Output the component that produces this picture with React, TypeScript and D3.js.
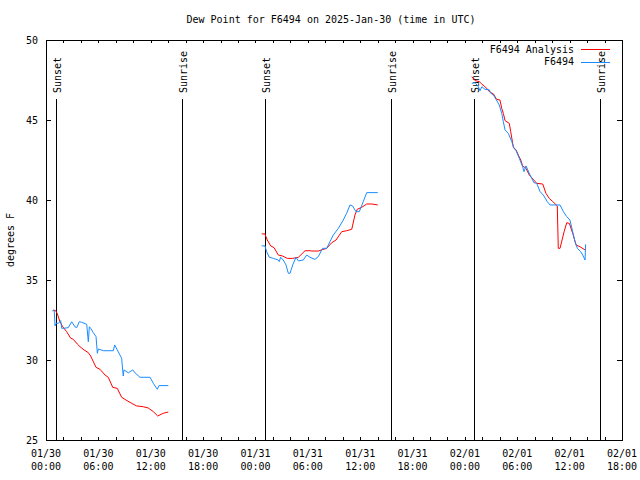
//@ts-nocheck
import * as d3 from "d3";
import React, { useEffect, useRef } from "react";

const colorAnalysis = "#ff0000";
const colorStation = "#1a8cff";

// F6494 Analysis (red)
const analysisTimes = [
  "01-30 00:50", "01-30 01:07", "01-30 01:18", "01-30 01:36", "01-30 01:55", "01-30 02:22",
  "01-30 02:50", "01-30 03:08", "01-30 03:35", "01-30 03:54", "01-30 04:21", "01-30 04:51",
  "01-30 05:07", "01-30 05:44", "01-30 06:11", "01-30 06:46", "01-30 07:08", "01-30 07:39",
  "01-30 08:10", "01-30 08:40", "01-30 09:10", "01-30 09:49", "01-30 10:23", "01-30 11:09",
  "01-30 11:43", "01-30 12:18", "01-30 12:48", "01-30 13:26", "01-30 14:01",
  "01-31 00:43", "01-31 01:05", "01-31 01:21", "01-31 01:45", "01-31 02:08", "01-31 02:37",
  "01-31 03:07", "01-31 03:39", "01-31 04:16", "01-31 04:55", "01-31 05:41", "01-31 06:15",
  "01-31 06:27", "01-31 07:12", "01-31 07:35", "01-31 08:10", "01-31 08:44", "01-31 09:14",
  "01-31 09:53", "01-31 10:27", "01-31 11:02", "01-31 11:24", "01-31 11:40", "01-31 12:10",
  "01-31 12:45", "01-31 13:19", "01-31 14:01",
  "02-01 00:47", "02-01 01:10", "02-01 01:39", "02-01 01:56", "02-01 02:30", "02-01 02:48",
  "02-01 03:16", "02-01 03:38", "02-01 04:01", "02-01 04:13", "02-01 04:24", "02-01 04:36",
  "02-01 05:05", "02-01 05:15", "02-01 05:33", "02-01 05:52", "02-01 06:07", "02-01 06:24",
  "02-01 06:37", "02-01 07:00", "02-01 07:23", "02-01 08:14", "02-01 08:55", "02-01 09:17",
  "02-01 09:40", "02-01 10:04", "02-01 10:35", "02-01 10:42", "02-01 10:54", "02-01 11:22",
  "02-01 11:40", "02-01 11:58", "02-01 12:21", "02-01 12:44", "02-01 13:11", "02-01 13:46",
];
const analysisValues = [
  33.13, 33.08, 32.88, 32.39, 32.08, 31.77,
  31.36, 31.29, 31.0, 30.83, 30.63, 30.46,
  30.25, 29.54, 29.42, 29.06, 28.92, 28.29,
  28.23, 27.67, 27.5, 27.29, 27.13, 27.08,
  27.0, 26.77, 26.5, 26.67, 26.75,
  37.88, 37.88, 37.5, 37.13, 37.02, 36.56,
  36.5, 36.35, 36.35, 36.42, 36.83, 36.83,
  36.81, 36.81, 36.88, 36.98, 37.33, 37.5,
  38.02, 38.08, 38.17, 39.06, 39.42, 39.54,
  39.75, 39.75, 39.69,
  47.71, 47.46, 47.4, 47.25, 46.98, 46.77,
  46.63, 46.29, 46.25, 45.73, 45.42, 44.96,
  44.79, 44.27, 43.29, 43.13, 42.81, 42.5,
  42.13, 41.98, 41.56, 41.04, 41.0, 40.42,
  40.1, 39.9, 39.63, 36.98, 36.98, 38.02,
  38.58, 38.54, 37.92, 37.19, 37.08, 36.88,
];

// F6494 station obs (blue)
const stationTimes = [
  "01-30 00:43", "01-30 00:57", "01-30 01:02", "01-30 01:09", "01-30 01:25", "01-30 01:41",
  "01-30 01:48", "01-30 01:59", "01-30 02:33", "01-30 02:57", "01-30 03:19", "01-30 03:31",
  "01-30 03:49", "01-30 04:05", "01-30 04:40", "01-30 04:51", "01-30 04:58", "01-30 05:07",
  "01-30 05:25", "01-30 05:44", "01-30 05:53", "01-30 06:00", "01-30 06:34", "01-30 07:43",
  "01-30 07:52", "01-30 08:10", "01-30 08:40", "01-30 08:51", "01-30 08:56", "01-30 09:26",
  "01-30 09:56", "01-30 10:12", "01-30 10:46", "01-30 11:55", "01-30 12:18", "01-30 12:45",
  "01-30 12:57", "01-30 14:01",
  "01-31 00:43", "01-31 01:05", "01-31 01:17", "01-31 01:35", "01-31 02:03", "01-31 02:37",
  "01-31 02:44", "01-31 02:53", "01-31 03:11", "01-31 03:30", "01-31 03:46", "01-31 03:58",
  "01-31 04:16", "01-31 04:39", "01-31 04:55", "01-31 05:29", "01-31 05:52", "01-31 06:15",
  "01-31 06:49", "01-31 07:12", "01-31 07:42", "01-31 08:10", "01-31 08:32", "01-31 08:55",
  "01-31 09:30", "01-31 10:04", "01-31 10:27", "01-31 10:50", "01-31 11:08", "01-31 11:31",
  "01-31 11:54", "01-31 12:21", "01-31 12:45", "01-31 14:01",
  "02-01 00:47", "02-01 01:10", "02-01 01:32", "02-01 01:44", "02-01 01:56", "02-01 02:18",
  "02-01 02:48", "02-01 02:58", "02-01 03:16", "02-01 03:34", "02-01 03:56", "02-01 04:13",
  "02-01 04:24", "02-01 04:36", "02-01 04:58", "02-01 05:22", "02-01 05:38", "02-01 05:52",
  "02-01 06:14", "02-01 06:37", "02-01 06:46", "02-01 07:00", "02-01 07:28", "02-01 07:55",
  "02-01 08:14", "02-01 08:37", "02-01 08:59", "02-01 09:26", "02-01 09:45", "02-01 10:54",
  "02-01 11:17", "02-01 11:40", "02-01 12:02", "02-01 12:21", "02-01 12:37", "02-01 12:53",
  "02-01 13:16", "02-01 13:30", "02-01 13:46", "02-01 13:50",
];
const stationValues = [
  33.08, 33.08, 32.13, 32.29, 32.29, 32.46,
  31.98, 31.98, 32.02, 32.39, 32.08, 32.02,
  32.39, 32.36, 32.23, 31.14, 32.08, 31.98,
  31.71, 31.46, 30.42, 30.69, 30.58, 30.58,
  30.94, 30.63, 30.11, 29.0, 29.38, 29.2,
  29.38, 29.2, 28.92, 28.92, 28.54, 28.17,
  28.4, 28.4,
  37.13, 37.13, 36.77, 36.42, 36.35, 36.25,
  36.15, 36.42, 36.25, 35.94, 35.42, 35.42,
  35.94, 36.42, 36.19, 36.25, 36.56, 36.42,
  36.29, 36.46, 36.98, 36.98, 37.39, 37.81,
  38.23, 38.75, 39.17, 39.69, 39.63, 39.27,
  39.27, 39.9, 40.46, 40.46,
  47.29, 47.33, 47.08, 46.83, 47.08, 46.92,
  46.88, 46.67, 46.56, 46.29, 45.94, 45.42,
  44.9, 44.38, 44.17, 43.65, 43.23, 43.08,
  42.6, 42.08, 41.77, 42.13, 41.56, 41.08,
  41.04, 40.52, 40.31, 39.9, 39.69, 39.69,
  39.27, 38.96, 38.75, 38.02, 37.39, 36.98,
  36.77, 36.56, 36.25, 37.23,
];

const sunEvents = ["Sunset", "Sunrise", "Sunset", "Sunrise", "Sunset", "Sunrise"];
const sunTimes = ["01-30 01:09", "01-30 15:35", "01-31 01:06", "01-31 15:33", "02-01 01:04", "02-01 15:30"];

const yTicks = [25, 30, 35, 40, 45, 50];

const parseTime = (s) => d3.utcParse("%Y-%m-%d %H:%M")("2025-" + s);

// split a series where the gap between samples is over 3 hours
function segments(times, values) {
  const out = [];
  let cur = [];
  times.forEach((t, i) => {
    const d = { t: parseTime(t), v: values[i] };
    if (cur.length && d.t - cur[cur.length - 1].t > 3 * 3600e3) {
      out.push(cur);
      cur = [];
    }
    cur.push(d);
  });
  if (cur.length) out.push(cur);
  return out;
}

const chart = () => {
  const width = 640;
  const height = 480;
  const font = "'DejaVu Sans Mono', monospace";

  const x = d3
    .scaleUtc()
    .domain([parseTime("01-30 00:00"), parseTime("02-01 18:00")])
    .range([46, 622]);
  const y = d3.scaleLinear().domain([25, 50]).range([440, 40]);

  const svg = d3
    .create("svg")
    .attr("width", width)
    .attr("height", height)
    .attr("viewBox", [0, 0, width, height])
    .attr("style", `position:absolute;left:0;top:0;background:#fff;font:10px ${font};`);

  svg
    .append("text")
    .attr("x", 331)
    .attr("y", 23)
    .attr("text-anchor", "middle")
    .text("Dew Point for F6494 on 2025-Jan-30 (time in UTC)");

  svg
    .append("text")
    .attr("transform", "translate(14,240) rotate(-90)")
    .attr("text-anchor", "middle")
    .text("degrees F");

  const majorTicks = d3.utcHour.every(6).range(x.domain()[0], +x.domain()[1] + 1);
  const minorTicks = d3.utcHour.every(2).range(x.domain()[0], +x.domain()[1] + 1);

  // ticks (inward, mirrored)
  const tickG = svg.append("g").attr("shape-rendering", "crispEdges");
  tickG
    .append("g")
    .attr("transform", "translate(0,440)")
    .call(d3.axisBottom(x).tickValues(minorTicks).tickSize(-3).tickFormat(""))
    .call((g) => g.select(".domain").remove());
  tickG
    .append("g")
    .attr("transform", "translate(0,40)")
    .call(d3.axisTop(x).tickValues(minorTicks).tickSize(-3).tickFormat(""))
    .call((g) => g.select(".domain").remove());
  tickG
    .append("g")
    .attr("transform", "translate(46,0)")
    .call(d3.axisLeft(y).tickValues(yTicks).tickSize(-5).tickPadding(8))
    .call((g) => g.select(".domain").remove())
    .call((g) => g.selectAll("text").attr("font-family", font).attr("font-size", 10));
  tickG
    .append("g")
    .attr("transform", "translate(622,0)")
    .call(d3.axisRight(y).tickValues(yTicks).tickSize(-5).tickFormat(""))
    .call((g) => g.select(".domain").remove());

  // two-line x labels
  const fmtDay = d3.utcFormat("%m/%d");
  const fmtHour = d3.utcFormat("%H:%M");
  const lbl = svg
    .append("g")
    .selectAll("text")
    .data(majorTicks)
    .join("text")
    .attr("text-anchor", "middle")
    .attr("transform", (d) => `translate(${x(d)},0)`);
  lbl.append("tspan").attr("x", 0).attr("y", 457).text(fmtDay);
  lbl.append("tspan").attr("x", 0).attr("y", 469.5).text(fmtHour);

  // sunrise / sunset markers
  const sun = svg
    .append("g")
    .selectAll("g")
    .data(sunTimes.map((t, i) => ({ t: parseTime(t), name: sunEvents[i] })))
    .join("g")
    .attr("transform", (d) => `translate(${Math.round(x(d.t)) + 0.5},0)`);
  sun
    .append("line")
    .attr("y1", 99)
    .attr("y2", 440)
    .attr("stroke", "#000")
    .attr("shape-rendering", "crispEdges");
  sun
    .append("text")
    .attr("transform", "translate(4,93) rotate(-90)")
    .attr("text-anchor", "start")
    .text((d) => d.name);

  const line = d3
    .line()
    .x((d) => x(d.t))
    .y((d) => y(d.v));

  svg
    .append("g")
    .attr("fill", "none")
    .attr("stroke", colorAnalysis)
    .selectAll("path")
    .data(segments(analysisTimes, analysisValues))
    .join("path")
    .attr("d", line);

  svg
    .append("g")
    .attr("fill", "none")
    .attr("stroke", colorStation)
    .selectAll("path")
    .data(segments(stationTimes, stationValues))
    .join("path")
    .attr("d", line);

  // legend
  const legend = svg.append("g");
  const items = [
    { name: "F6494 Analysis", color: colorAnalysis },
    { name: "F6494", color: colorStation },
  ];
  const li = legend
    .selectAll("g")
    .data(items)
    .join("g")
    .attr("transform", (d, i) => `translate(0,${49.5 + i * 12.5})`);
  li.append("text")
    .attr("x", 574)
    .attr("dy", "0.32em")
    .attr("text-anchor", "end")
    .text((d) => d.name);
  li.append("line")
    .attr("x1", 581)
    .attr("x2", 610)
    .attr("stroke", (d) => d.color)
    .attr("shape-rendering", "crispEdges");

  // frame
  svg
    .append("rect")
    .attr("x", 46.5)
    .attr("y", 40.5)
    .attr("width", 576)
    .attr("height", 400)
    .attr("fill", "none")
    .attr("stroke", "#000")
    .attr("shape-rendering", "crispEdges");

  return svg.node();
};

export default function App() {
  const holderRef = useRef<HTMLDivElement | null>(null);

  useEffect(() => {
    const holder = holderRef.current;
    if (!holder || holder.hasChildNodes()) return;
    holder.appendChild(chart());
  }, []);

  return <div ref={holderRef}></div>;
}
